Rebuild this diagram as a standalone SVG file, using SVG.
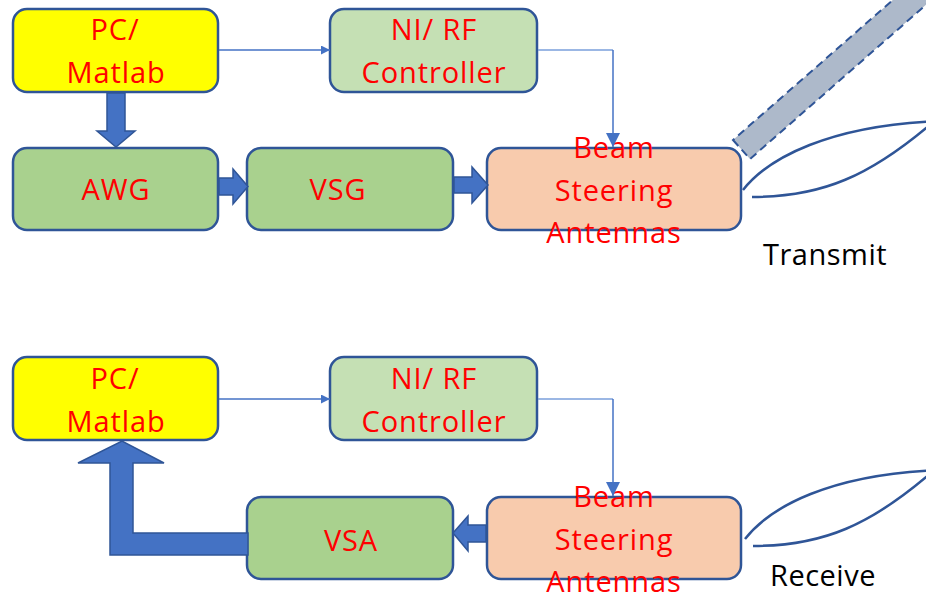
<svg xmlns="http://www.w3.org/2000/svg" width="926" height="599" viewBox="0 0 926 599">
<defs>
<style>
.box{stroke:#2F5597;stroke-width:2.5}
.yel{fill:#FFFF00}
.lg{fill:#C5E0B4}
.g{fill:#A9D18E}
.or{fill:#F8CBAD}
.t{font-family:"Open Sans","Liberation Sans",sans-serif;font-size:29px;letter-spacing:0.9px;fill:#FF0000;text-anchor:middle}
.lab{font-family:"Open Sans","Liberation Sans",sans-serif;font-size:29px;letter-spacing:0.5px;fill:#000000}
.blk{fill:#4472C4;stroke:#2F5597;stroke-width:1.5;stroke-linejoin:miter}
.thin{fill:none;stroke:#4472C4;stroke-width:1.5}
.thinl{fill:none;stroke:#7A9FDB;stroke-width:1.3}
.lobe{fill:none;stroke:#2F5597;stroke-width:2.5}
</style>
<marker id="ah" viewBox="0 0 10 10" refX="10" refY="5" markerWidth="9" markerHeight="9" markerUnits="userSpaceOnUse" orient="auto">
<path d="M0,0 L10,5 L0,10 z" fill="#4472C4"/>
</marker>
<marker id="ahv" viewBox="0 0 10 10" refX="10" refY="5" markerWidth="14" markerHeight="14" markerUnits="userSpaceOnUse" orient="auto">
<path d="M0,0 L10,5 L0,10 z" fill="#4472C4"/>
</marker>
</defs>

<!-- Transmit section -->
<g id="tx-pc">
<rect class="box yel" x="13" y="9" width="205" height="83" rx="14"/>
<text class="t" x="115" y="40">PC/</text>
<text class="t" x="116" y="83">Matlab</text>
</g>
<g id="tx-ni">
<rect class="box lg" x="330" y="9" width="207" height="83" rx="14"/>
<text class="t" x="434" y="40">NI/ RF</text>
<text class="t" x="434" y="83">Controller</text>
</g>
<g id="tx-awg">
<rect class="box g" x="13" y="148" width="205" height="82" rx="14"/>
<text class="t" x="116" y="200">AWG</text>
</g>
<g id="tx-vsg">
<rect class="box g" x="247" y="148" width="206" height="82" rx="14"/>
<text class="t" x="338" y="200">VSG</text>
</g>
<g id="tx-bsa">
<rect class="box or" x="487" y="148" width="254" height="82" rx="14"/>
<text class="t" x="614" y="158">Beam</text>
<text class="t" x="614" y="201">Steering</text>
<text class="t" x="614" y="243">Antennas</text>
</g>
<g id="tx-beam">
<polygon points="733,140 750,159 976,-39 959,-58" fill="#ADB9CA" stroke="#2F5597" stroke-width="2" stroke-dasharray="8,5"/>
<path class="lobe" d="M743,190 C768,158 830,125 940,121"/>
<path class="lobe" d="M752,197 C820,197 870,178 940,116"/>
<text class="lab" x="763" y="265">Transmit</text>
</g>

<!-- Receive section -->
<g id="rx-pc">
<rect class="box yel" x="13" y="357" width="205" height="83" rx="14"/>
<text class="t" x="115" y="389">PC/</text>
<text class="t" x="116" y="432">Matlab</text>
</g>
<g id="rx-ni">
<rect class="box lg" x="330" y="357" width="207" height="83" rx="14"/>
<text class="t" x="434" y="389">NI/ RF</text>
<text class="t" x="434" y="432">Controller</text>
</g>
<g id="rx-vsa">
<rect class="box g" x="247" y="497" width="206" height="82" rx="14"/>
<text class="t" x="351" y="551">VSA</text>
</g>
<g id="rx-bsa">
<rect class="box or" x="487" y="497" width="254" height="82" rx="14"/>
<text class="t" x="614" y="507">Beam</text>
<text class="t" x="614" y="550">Steering</text>
<text class="t" x="614" y="592">Antennas</text>
</g>
<g id="rx-beam">
<path class="lobe" d="M745,539 C770,507 830,474 940,470"/>
<path class="lobe" d="M753,546 C821,546 871,527 940,465"/>
<text class="lab" x="770" y="586">Receive</text>
</g>

<!-- Connectors -->
<g id="connectors">
<line class="thin" x1="219" y1="50" x2="330" y2="50" marker-end="url(#ah)"/>
<polyline class="thinl" points="538,50 613,50"/>
<line class="thin" x1="613" y1="50" x2="613" y2="147" stroke-width="2" marker-end="url(#ahv)"/>
<line class="thin" x1="219" y1="399" x2="330" y2="399" marker-end="url(#ah)"/>
<polyline class="thinl" points="538,399 613,399"/>
<line class="thin" x1="613" y1="399" x2="613" y2="496" stroke-width="2" marker-end="url(#ahv)"/>

<polygon class="blk" points="107,93 125,93 125,131 135,131 116,147 97,131 107,131"/>
<polygon class="blk" points="219,178 233,178 233,169 248,186.5 233,204 233,195 219,195"/>
<polygon class="blk" points="454,177 472,177 472,167 488,185 472,203 472,193 454,193"/>
<polygon class="blk" points="486,525 468,525 468,516 453,533 468,551 468,542 486,542"/>
<polygon class="blk" points="248,533 133,533 133,463 164,463 122,441 78,463 110,463 110,555 248,555"/>
</g>
</svg>
